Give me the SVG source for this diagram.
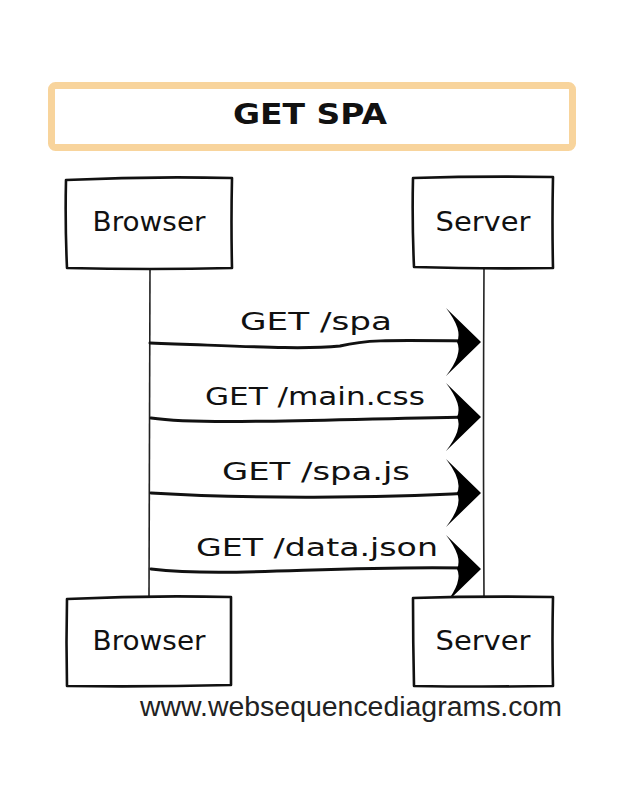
<svg xmlns="http://www.w3.org/2000/svg" width="632" height="794" viewBox="0 0 632 794">
<style>
.box{fill:#fff;stroke:#111;stroke-width:2.6;stroke-linejoin:round;stroke-linecap:round}
.life{fill:none;stroke:#222;stroke-width:1.6}
.msg{fill:none;stroke:#111;stroke-width:3;stroke-linecap:round}
.lbl{font-family:"DejaVu Sans",sans-serif;font-size:25px;fill:#111}
.act{font-family:"DejaVu Sans",sans-serif;font-size:26px;fill:#111}
.ttl{font-family:"DejaVu Sans",sans-serif;font-size:28px;font-weight:bold;fill:#111}
.wm{font-family:"Liberation Sans",Arial,sans-serif;font-size:27px;fill:#222}
</style>
<defs>
<path id="ah" d="M0,0 L-35,-34 Q-18,-12 -24,0 Q-18,12 -35,34 Z" fill="#000"/>
</defs>
<rect width="632" height="794" fill="#fff"/>
<g id="title">
<rect x="51.5" y="85.5" width="521" height="62" rx="4" fill="#fff" stroke="#F8D49C" stroke-width="7"/>
<text class="ttl" x="310" y="124" text-anchor="middle" textLength="154" lengthAdjust="spacingAndGlyphs">GET SPA</text>
</g>
<g id="connectors">
<path class="life" d="M150,268 Q149,430 149,597"/>
<path class="life" d="M484,268 Q483,430 484,597"/>
<path class="msg" d="M150,343 C240,346 300,350 340,346 C365,340 380,340 470,341"/>
<use href="#ah" x="481" y="342"/>
<path class="msg" d="M151,418 C200,425 300,420 470,417"/>
<use href="#ah" x="481" y="417"/>
<path class="msg" d="M151,493 C250,499 380,498 470,493"/>
<use href="#ah" x="481" y="493"/>
<path class="msg" d="M151,569 C230,578 330,565 470,568"/>
<use href="#ah" x="481" y="569"/>
<text class="lbl" x="316" y="330" text-anchor="middle" textLength="152" lengthAdjust="spacingAndGlyphs">GET /spa</text>
<text class="lbl" x="315" y="405" text-anchor="middle" textLength="220" lengthAdjust="spacingAndGlyphs">GET /main.css</text>
<text class="lbl" x="316" y="480" text-anchor="middle" textLength="188" lengthAdjust="spacingAndGlyphs">GET /spa.js</text>
<text class="lbl" x="317" y="556" text-anchor="middle" textLength="242" lengthAdjust="spacingAndGlyphs">GET /data.json</text>
</g>
<g id="browser-top">
<path class="box" d="M66,180 Q150,176 232,178 Q231,222 232,268 Q150,270 67,268 Q65,224 66,180 Z"/>
<text class="act" x="149" y="231" text-anchor="middle" textLength="113" lengthAdjust="spacingAndGlyphs">Browser</text>
</g>
<g id="server-top">
<path class="box" d="M413,178 Q480,176 553,177 Q552,222 553,268 Q480,269 414,267 Q412,222 413,178 Z"/>
<text class="act" x="483" y="231" text-anchor="middle" textLength="95" lengthAdjust="spacingAndGlyphs">Server</text>
</g>
<g id="browser-bottom">
<path class="box" d="M67,599 Q150,595 231,597 Q231,640 231,685 Q150,687 67,686 Q66,642 67,599 Z"/>
<text class="act" x="149" y="650" text-anchor="middle" textLength="113" lengthAdjust="spacingAndGlyphs">Browser</text>
</g>
<g id="server-bottom">
<path class="box" d="M413,598 Q480,596 553,597 Q552,641 553,686 Q480,687 414,686 Q413,642 413,598 Z"/>
<text class="act" x="483" y="650" text-anchor="middle" textLength="95" lengthAdjust="spacingAndGlyphs">Server</text>
</g>
<text class="wm" x="140" y="716" textLength="422" lengthAdjust="spacingAndGlyphs">www.websequencediagrams.com</text>
</svg>
